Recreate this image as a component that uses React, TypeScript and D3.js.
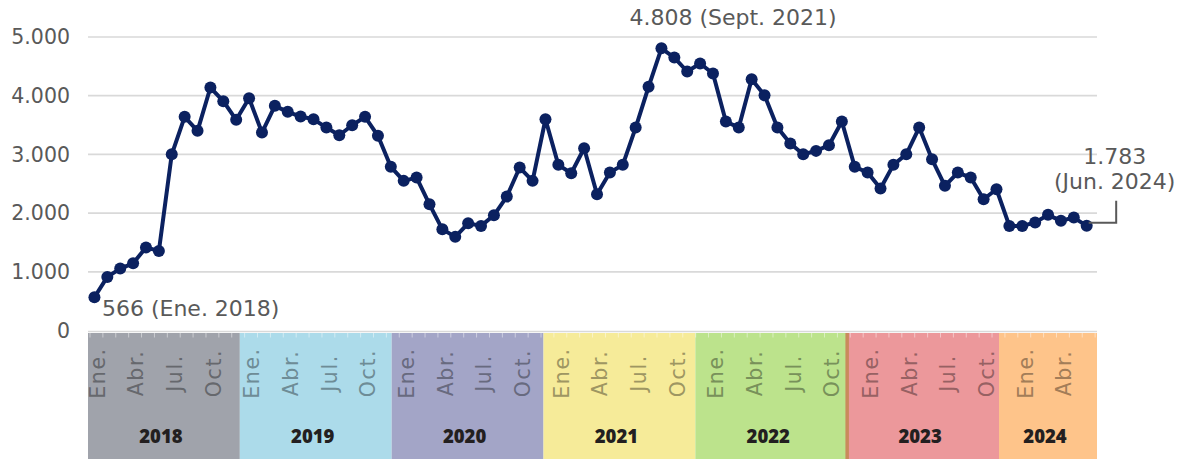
import React from "react";
import * as d3 from "d3";

// ---------- data ----------
const years = [2018, 2019, 2020, 2021, 2022, 2023, 2024];
const yearColors = ["#a0a3ab", "#acdbea", "#a3a5c7", "#f6eb99", "#bce38c", "#ec989b", "#fec48a"];
const monthAbbr = ["Ene.", "Feb.", "Mar.", "Abr.", "May.", "Jun.", "Jul.", "Ago.", "Sept.", "Oct.", "Nov.", "Dic."];
const axisMonths = [0, 3, 6, 9];
const yTicks = [0, 1000, 2000, 3000, 4000, 5000];
// monthly values, Jan 2018 – Jun 2024
const values = [
  566, 913, 1055, 1145, 1413, 1356, 3002, 3640, 3401, 4139, 3906, 3589,
  3957, 3372, 3827, 3725, 3645, 3599, 3457, 3326, 3497, 3640, 3316, 2788,
  2549, 2605, 2150, 1724, 1595, 1827, 1782, 1963, 2282, 2776, 2549, 3599,
  2822, 2679, 3105, 2321, 2691, 2822, 3457, 4151, 4808, 4650, 4412, 4548,
  4378, 3560, 3457, 4280, 4008, 3457, 3185, 3002, 3060, 3156, 3560, 2788,
  2691, 2418, 2822, 3002, 3457, 2917, 2464, 2691, 2605, 2236, 2406, 1782,
  1782, 1839, 1970, 1868, 1924, 1783,
];
const annotatedIndices = [0, 44, 77];

// ---------- layout ----------
const W = 1186;
const H = 459;
const plotLeft = 88;
const plotRight = 1097;
const FONT = "'DejaVu Sans', sans-serif";
const GRAY = "#595959";
const NAVY = "#0b2160";

const x = d3.scaleLinear().domain([-0.5, 77.8]).range([plotLeft, plotRight]);
const y = d3.scaleLinear().domain([0, 5000]).range([330.5, 37]);
const bandX = d3.scaleLinear().domain([years[0], 2024]).range([plotLeft, 999]);

const locale = d3.formatLocale({ decimal: ",", thousands: ".", grouping: [3], currency: ["", ""] });
const fmt = locale.format(",d");
const monthOf = (i: number) => i % 12;
const yearOf = (i: number) => years[0] + Math.floor(i / 12);

export default function App() {
  const line = d3
    .line<number>()
    .x((_, i) => x(i))
    .y((d) => y(d));

  const bandTop = y(0) + 2.5;
  const nCats = Math.ceil(x.domain()[1] + 0.5);

  const [iFirst, iMax, iLast] = annotatedIndices;

  return (
    <svg
      width={W}
      height={H}
      style={{ position: "absolute", left: 0, top: 0, display: "block", background: "#fff" }}
      fontFamily={FONT}
    >
      {/* gridlines */}
      {yTicks.slice(1).map((t) => (
        <line key={t} x1={plotLeft} x2={plotRight} y1={y(t)} y2={y(t)} stroke="#d9d9d9" strokeWidth={1.7} />
      ))}
      <line x1={plotLeft} x2={plotRight} y1={y(0) + 1} y2={y(0) + 1} stroke="#d9d9d9" strokeWidth={1.7} />

      {/* y tick labels */}
      {yTicks.map((t) => (
        <text key={t} x={70} y={y(t)} dy="0.36em" textAnchor="end" fontSize={20.5} fill={GRAY}>
          {fmt(t)}
        </text>
      ))}

      {/* year bands */}
      {years.map((yr, k) => {
        const x0 = bandX(yr);
        const x1 = k === years.length - 1 ? plotRight : bandX(yr + 1);
        return <rect key={yr} x={x0} y={bandTop} width={x1 - x0} height={H - bandTop} fill={yearColors[k]} />;
      })}
      <line x1={bandX(2023)} x2={bandX(2023)} y1={bandTop} y2={H} stroke="#c98a5c" strokeWidth={3.5} />

      {/* category ticks */}
      {d3.range(nCats + 1).map((i) => (
        <line
          key={i}
          x1={x(i - 0.5) + 2}
          x2={x(i - 0.5) + 2}
          y1={bandTop}
          y2={bandTop + 4.5}
          stroke="#ffffff"
          strokeOpacity={0.45}
          strokeWidth={1}
        />
      ))}

      {/* month labels */}
      {values.map((_, i) => {
        const m = monthOf(i);
        if (!axisMonths.includes(m)) return null;
        const k = years.indexOf(yearOf(i));
        const col = d3.color(yearColors[k])!.darker(1.25).formatHex();
        const cx = x(i) + 3;
        const cy = 373;
        return (
          <text
            key={i}
            transform={`translate(${cx},${cy}) rotate(-90)`}
            textAnchor="middle"
            dy="0.36em"
            fontSize={20.5}
            letterSpacing={1.6}
            fill={col}
          >
            {monthAbbr[m]}
          </text>
        );
      })}

      {/* year labels */}
      {years.map((yr, k) => {
        const x0 = bandX(yr);
        const x1 = k === years.length - 1 ? plotRight : bandX(yr + 1);
        return (
          <text
            key={yr}
            x={(x0 + x1) / 2 - 3}
            y={443}
            textAnchor="middle"
            fontSize={18.5}
            fontWeight={800}
            fontFamily="'Open Sans', sans-serif"
            fill="#231f20"
          >
            {yr}
          </text>
        );
      })}

      {/* series */}
      <path d={line(values) ?? ""} fill="none" stroke={NAVY} strokeWidth={4} strokeLinejoin="round" />
      {values.map((v, i) => (
        <circle key={i} cx={x(i)} cy={y(v)} r={6} fill={NAVY} />
      ))}

      {/* annotations */}
      <text x={x(iFirst) + 7.5} y={y(values[iFirst]) + 19} fontSize={22} fill={GRAY}>
        {`${fmt(values[iFirst])} (${monthAbbr[monthOf(iFirst)]} ${yearOf(iFirst)})`}
      </text>
      <text x={x(iMax) - 32} y={y(values[iMax]) - 23} fontSize={22} fill={GRAY}>
        {`${fmt(values[iMax])} (${monthAbbr[monthOf(iMax)]} ${yearOf(iMax)})`}
      </text>
      <path
        d={`M${x(iLast) + 2},${y(values[iLast]) - 3}H${x(iLast) + 29.5}V${y(values[iLast]) - 25}`}
        fill="none"
        stroke={GRAY}
        strokeWidth={2}
      />
      <text x={x(iLast) + 28} y={y(values[iLast]) - 62} textAnchor="middle" fontSize={22} fill={GRAY}>
        {fmt(values[iLast])}
      </text>
      <text x={x(iLast) + 28} y={y(values[iLast]) - 37} textAnchor="middle" fontSize={22} fill={GRAY}>
        {`(${monthAbbr[monthOf(iLast)]} ${yearOf(iLast)})`}
      </text>
    </svg>
  );
}
